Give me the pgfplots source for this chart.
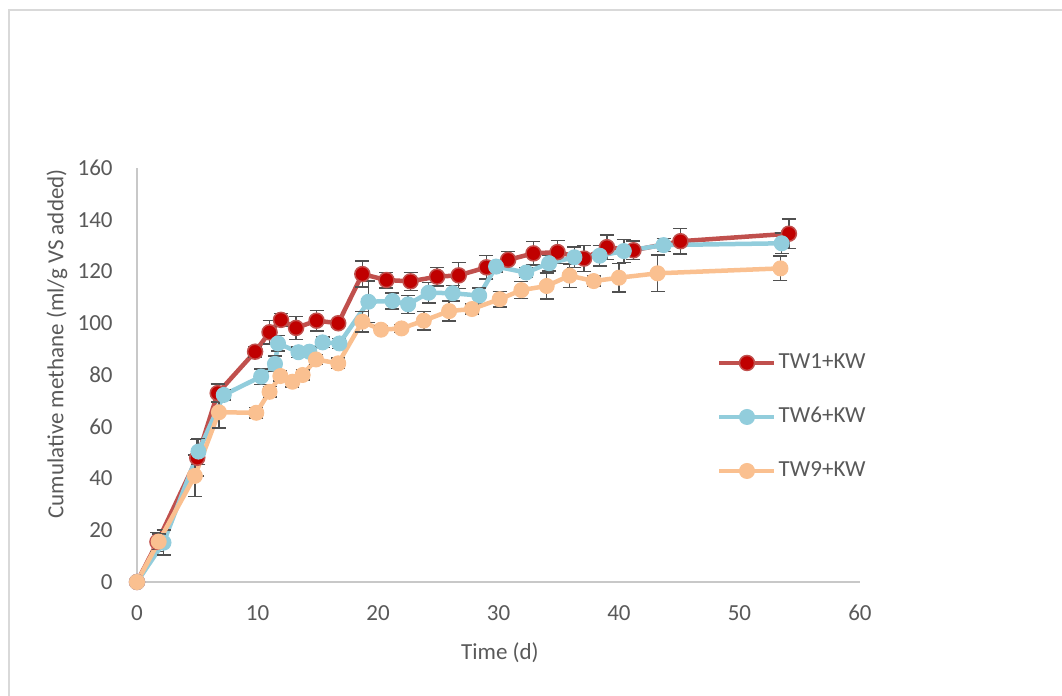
\documentclass[border=0pt]{standalone}
\usepackage{fontspec}
\setmainfont{Carlito}
\usepackage{pgfplots}
\usepackage{pgfplotstable}
\pgfplotsset{compat=1.18}

\definecolor{txtgrey}{HTML}{595959}
\definecolor{axgrey}{HTML}{C8C8C8}
\definecolor{frame}{HTML}{D9D9D9}
\definecolor{errgrey}{HTML}{505050}
\definecolor{redline}{HTML}{C0504D}
\definecolor{redmark}{HTML}{C00000}
\definecolor{blueline}{HTML}{92CDDC}
\definecolor{orangeline}{HTML}{FAC090}

% x = time (d), y = cumulative methane, e = error
\pgfplotstableread{
x     y      e
0     0      0
1.7   15.5   3.7
5.0   48.0   7
6.7   73.0   3.5
9.8   89.0   2
11.0  96.5   4.5
11.95 101.3  2.5
13.2  98.2   4.5
14.9  101.0  4
16.7  100.0  1.5
18.7  119.0  5
20.7  116.7  3
22.7  116.2  3.5
24.9  118.0  3.6
26.7  118.5  5
29.0  121.6  4.5
30.8  124.5  3.3
32.9  127.0  4.5
34.9  127.5  4.5
37.1  125.0  5
39.0  129.4  4.7
41.2  128.2  3.5
45.1  131.7  5
54.1  134.6  5.7
}\twone

\pgfplotstableread{
x     y      e
0     0      0
2.2   15.2   4.8
5.1   50.4   5
7.2   72.3   2
10.3  79.4   3
11.45 84.3   3
11.7  92.2   3
13.4  88.8   2
14.3  89.0   2
15.4  92.6   2
16.8  92.2   2
19.2  108.3  8
21.2  108.6  3
22.5  107.3  3.5
24.2  111.8  4
26.2  111.6  3
28.4  110.7  3
29.8  121.9  2
32.3  119.6  2
34.2  123.2  3
36.3  125.5  4
38.4  126.1  4
40.4  127.9  4.5
43.7  130.2  2.5
53.5  130.9  4
}\twsix

\pgfplotstableread{
x     y      e
0     0      0
1.8   15.6   3
4.8   41.0   8
6.8   65.6   6
9.9   65.4   2
11.0  73.5   2
11.9  79.6   2
12.9  77.4   2
13.75 80.0   2
14.85 86.0   2
16.7  84.5   2
18.7  100.6  4
20.25 97.5   1.5
21.95 98.0   1.5
23.8  101.0  3.6
25.9  104.7  3.9
27.8  105.5  2
30.1  109.3  3
31.9  112.8  3.3
34.0  114.4  5
35.9  118.4  4.5
37.9  116.3  2
40.0  117.6  5.5
43.2  119.3  7
53.4  121.2  4.7
}\twnine

\begin{document}
\begin{tikzpicture}
  \clip (-68.5pt,-57pt) rectangle (462.5pt,291pt);
  \draw[frame, line width=0.75pt] (-64pt,-80pt) rectangle (480pt,286pt);
  \begin{axis}[
    at={(0,0)}, anchor=south west,
    scale only axis,
    width=361.5pt, height=207pt,
    xmin=0, xmax=60, ymin=0, ymax=160,
    xtick={0,10,...,60}, ytick={0,20,...,160},
    axis lines=left,
    axis line style={axgrey, line width=0.75pt, -},
    major tick length=0pt,
    clip=false,
    font=\fontsize{11.5}{13.8}\selectfont,
    /pgf/number format/assume math mode=true,
    tick label style={text=txtgrey, font=\fontsize{11.5}{13.8}\selectfont},
    xticklabel style={anchor=north, inner sep=0pt, yshift=-11.5pt},
    yticklabel style={anchor=east, inner sep=0pt, xshift=-12pt},
    xlabel={Time (d)},
    ylabel={Cumulative methane (ml/g VS added)},
    label style={text=txtgrey},
    xlabel style={at={(axis description cs:0.502,-0.1715)}, anchor=center, inner sep=0pt},
    ylabel style={at={(axis description cs:-0.1107,0.575)}, anchor=center, inner sep=0pt},
    legend style={at={(axis description cs:0.802,0.3986)}, anchor=west,
      draw=none, fill=none, inner sep=0pt, row sep=17pt,
      font=\fontsize{11.5}{13.8}\selectfont, text=txtgrey,
      nodes={inner sep=0pt, text height=8pt, text depth=2pt}},
    legend cell align=left,
    legend image code/.code={
      \draw[mark repeat=2, mark phase=2, #1]
        plot coordinates {(0pt,0pt) (13.75pt,0pt) (27.5pt,0pt)};
      \path (28.5pt,0pt);
    },
    every axis plot/.append style={line width=2.25pt},
    error bars/y dir=both, error bars/y explicit,
    error bars/error bar style={errgrey, line width=0.75pt},
    error bars/error mark options={rotate=90, errgrey, mark size=3.5pt, line width=0.75pt},
  ]
    \addplot[redline, mark=*, mark size=3.75pt,
      mark options={fill=redmark, draw=redline, line width=0.75pt}]
      table[x=x, y=y, y error=e] {\twone};
    \addlegendentry{TW1+KW}
    \addplot[blueline, mark=*, mark size=3.75pt,
      mark options={fill=blueline, draw=blueline, line width=0.5pt}]
      table[x=x, y=y, y error=e] {\twsix};
    \addlegendentry{TW6+KW}
    \addplot[orangeline, mark=*, mark size=3.75pt,
      mark options={fill=orangeline, draw=orangeline, line width=0.5pt}]
      table[x=x, y=y, y error=e] {\twnine};
    \addlegendentry{TW9+KW}
  \end{axis}
\end{tikzpicture}
\end{document}
